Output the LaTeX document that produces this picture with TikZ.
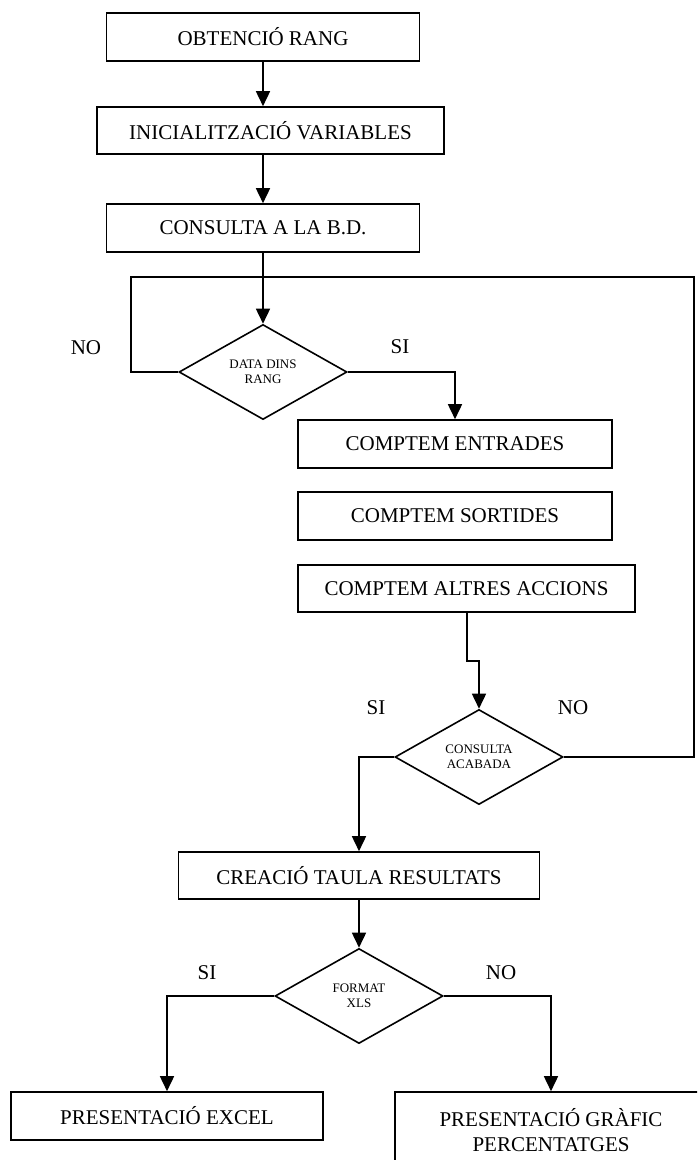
\documentclass[tikz,border=0pt]{standalone}
\usepackage{fontspec}
\setmainfont{Liberation Serif}
\usetikzlibrary{shapes.geometric,arrows.meta}
\begin{document}
\begin{tikzpicture}[x=1pt,y=-1pt,
  line width=1.6pt,
  stepbox/.style={draw, rectangle, inner sep=0pt, font=\fontsize{21}{25}\selectfont, align=center},
  decision/.style={draw, diamond, shape aspect=1.8, inner sep=0pt,
    minimum width=168pt, minimum height=95pt, font=\fontsize{13}{15}\selectfont, align=center},
  answer/.style={font=\fontsize{21}{25}\selectfont},
  arr/.style={-{Triangle[length=15pt,width=14pt]}}]
\useasboundingbox (0,0) rectangle (697,1160);
\clip (0,0) rectangle (697,1160);

% process boxes
\node[stepbox, minimum width=313pt, minimum height=48pt] (obt) at (263,37) {OBTENCIÓ RANG};
\node[stepbox, minimum width=347pt, minimum height=47pt] (ini) at (270.5,130.5) {INICIALITZACIÓ VARIABLES};
\node[stepbox, minimum width=313pt, minimum height=48pt] (cons) at (263,228) {CONSULTA A LA B.D.};
\node[decision] (d1) at (263,372) {DATA DINS\\RANG};
\node[stepbox, minimum width=314pt, minimum height=48pt] (ent) at (455,444) {COMPTEM ENTRADES};
\node[stepbox, minimum width=314pt, minimum height=48pt] (sor) at (455,516) {COMPTEM SORTIDES};
\node[stepbox, minimum width=337pt, minimum height=47pt] (alt) at (466.5,588.5) {COMPTEM ALTRES ACCIONS};
\node[decision] (d2) at (479,757) {CONSULTA\\ACABADA};
\node[stepbox, minimum width=361pt, minimum height=47pt] (cre) at (359,875.5) {CREACIÓ TAULA RESULTATS};
\node[decision] (d3) at (359,996) {FORMAT\\XLS};
\node[stepbox, minimum width=312pt, minimum height=48pt] (exc) at (167,1116) {PRESENTACIÓ EXCEL};
\node[stepbox, minimum width=312pt, minimum height=76pt] (gra) at (551,1130) {PRESENTACIÓ GRÀFIC\\PERCENTATGES};

% branch labels
\node[answer] (no1) at (86,348) {NO};
\node[answer] (si1) at (400,347) {SI};
\node[answer] (si2) at (376,708) {SI};
\node[answer] (no2) at (573,708) {NO};
\node[answer] (si3) at (207,973) {SI};
\node[answer] (no3) at (501,973) {NO};

% helper points of the loop and the offset connector
\coordinate (loopR) at (694,277);
\coordinate (loopL) at (131,277);
\coordinate (jog) at (467,661);

% connectors
\draw[arr] (obt.south) -- (obt.south |- ini.north);
\draw[arr] (ini.south -| cons.north) -- (cons.north);
\draw[arr] (cons.south) -- (d1.north);
\draw (d2.east) -| (loopR) -- (loopL) |- (d1.west);
\draw[arr] (d1.east) -| (ent.north);
\draw[arr] (alt.south -| jog) -- (jog) -| (d2.north);
\draw[arr] (d2.west) -| (cre.north);
\draw[arr] (cre.south) -- (d3.north);
\draw[arr] (d3.west) -| (exc.north);
\draw[arr] (d3.east) -| (gra.north);
\end{tikzpicture}
\end{document}
